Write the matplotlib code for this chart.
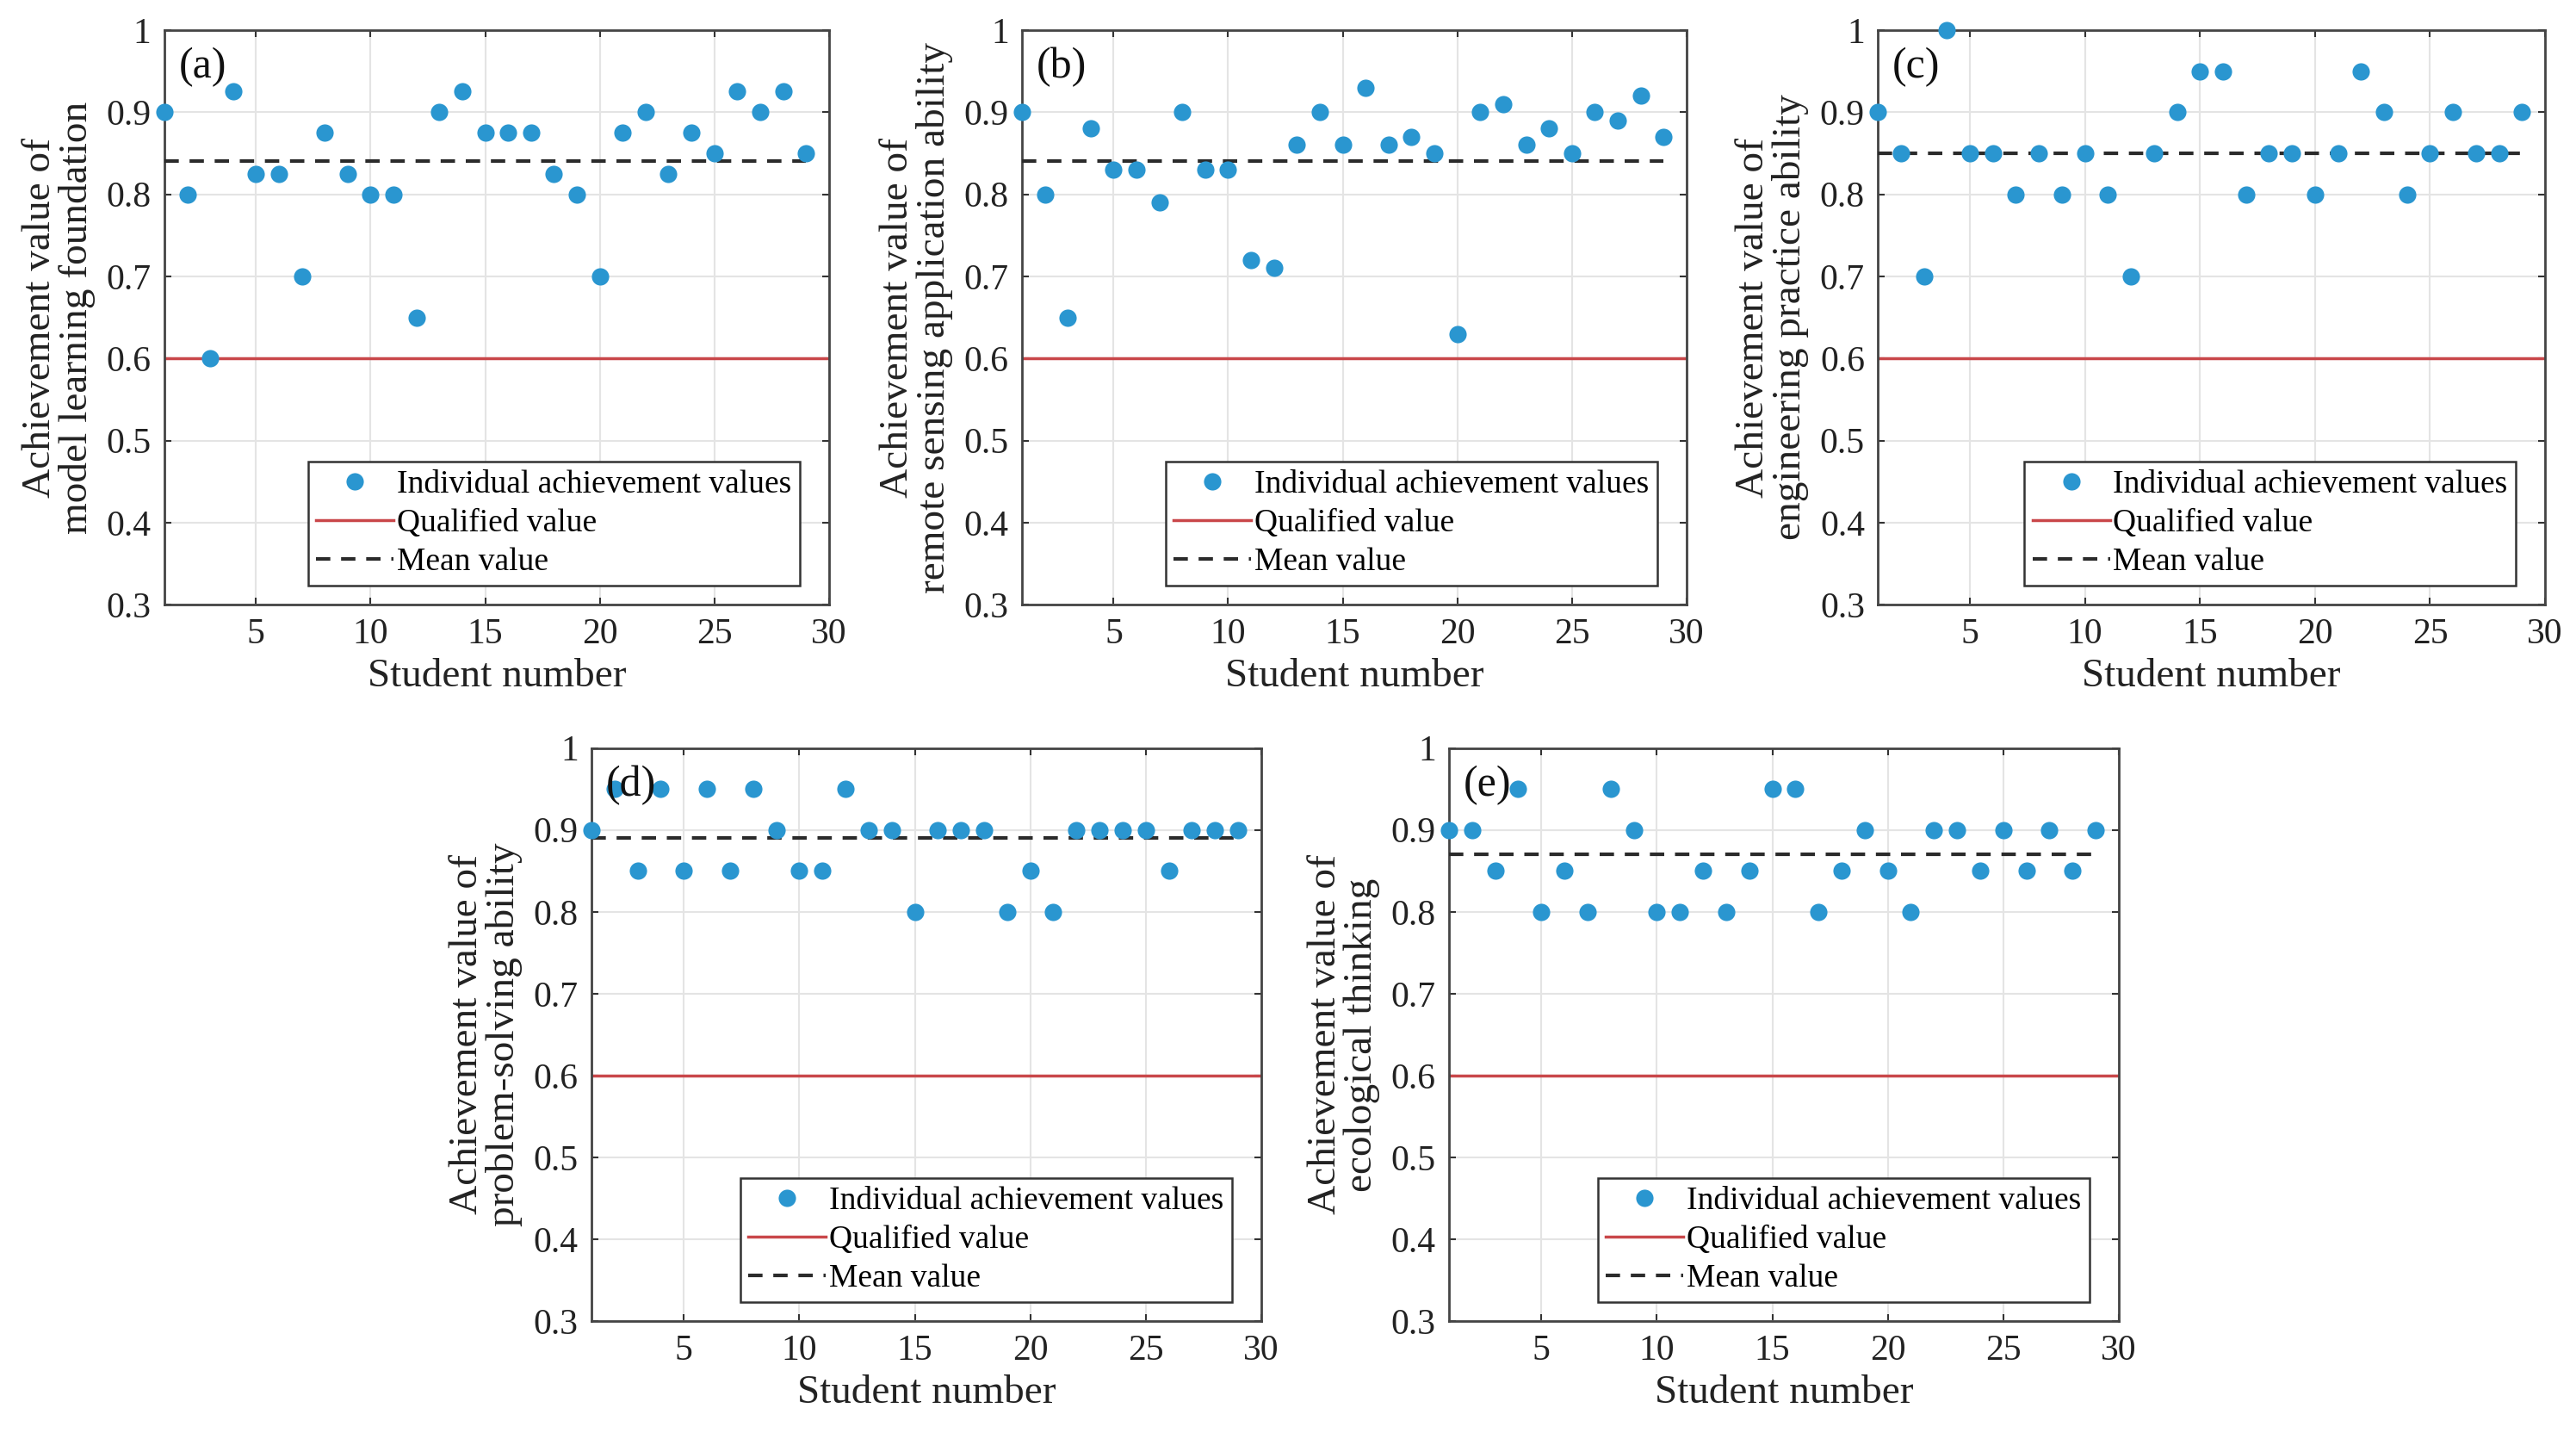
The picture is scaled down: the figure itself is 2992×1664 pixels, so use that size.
import matplotlib
matplotlib.use("Agg")
import matplotlib.pyplot as plt
from matplotlib.lines import Line2D

plt.rcParams['font.family'] = ['Liberation Serif', 'DejaVu Serif']

students = list(range(1, 30))

vals_a = [0.9, 0.8, 0.6, 0.925, 0.825, 0.825, 0.7, 0.875, 0.825, 0.8, 0.8, 0.65, 0.9, 0.925,
          0.875, 0.875, 0.875, 0.825, 0.8, 0.7, 0.875, 0.9, 0.825, 0.875, 0.85, 0.925, 0.9, 0.925, 0.85]
vals_b = [0.9, 0.8, 0.65, 0.88, 0.83, 0.83, 0.79, 0.9, 0.83, 0.83, 0.72, 0.71, 0.86, 0.9,
          0.86, 0.93, 0.86, 0.87, 0.85, 0.63, 0.9, 0.91, 0.86, 0.88, 0.85, 0.9, 0.89, 0.92, 0.87]
vals_c = [0.9, 0.85, 0.7, 1.0, 0.85, 0.85, 0.8, 0.85, 0.8, 0.85, 0.8, 0.7, 0.85, 0.9,
          0.95, 0.95, 0.8, 0.85, 0.85, 0.8, 0.85, 0.95, 0.9, 0.8, 0.85, 0.9, 0.85, 0.85, 0.9]
vals_d = [0.9, 0.95, 0.85, 0.95, 0.85, 0.95, 0.85, 0.95, 0.9, 0.85, 0.85, 0.95, 0.9, 0.9,
          0.8, 0.9, 0.9, 0.9, 0.8, 0.85, 0.8, 0.9, 0.9, 0.9, 0.9, 0.85, 0.9, 0.9, 0.9]
vals_e = [0.9, 0.9, 0.85, 0.95, 0.8, 0.85, 0.8, 0.95, 0.9, 0.8, 0.8, 0.85, 0.8, 0.85,
          0.95, 0.95, 0.8, 0.85, 0.9, 0.85, 0.8, 0.9, 0.9, 0.85, 0.9, 0.85, 0.9, 0.85, 0.9]

mean_values = [0.84, 0.84, 0.85, 0.89, 0.87]
qualified_value = 0.6

panel_tags = ['(a)', '(b)', '(c)', '(d)', '(e)']
ylabels = ['Achievement value of\nmodel learning foundation',
           'Achievement value of\nremote sensing application ability',
           'Achievement value of\nengineering practice ability',
           'Achievement value of\nproblem-solving ability',
           'Achievement value of\necological thinking']
xlabel = 'Student number'
legend_labels = ['Individual achievement values', 'Qualified value', 'Mean value']
xticks = [5, 10, 15, 20, 25, 30]
yticks = [0.3, 0.4, 0.5, 0.6, 0.7, 0.8, 0.9, 1.0]

all_vals = [vals_a, vals_b, vals_c, vals_d, vals_e]

W, H = 2992, 1664
fig = plt.figure(figsize=(W / 100, H / 100), dpi=100)

# axes rectangles (left, bottom, width, height) in figure fractions
rects = [
    (0.0638, 0.578, 0.258, 0.401),
    (0.3967, 0.578, 0.258, 0.401),
    (0.7290, 0.578, 0.259, 0.401),
    (0.2296, 0.078, 0.260, 0.400),
    (0.5625, 0.078, 0.260, 0.400),
]

dot_color = '#2A96D0'
red_color = '#C9474A'
mean_color = '#2B2B2B'

for i in range(5):
    ax = fig.add_axes(rects[i])
    vals = all_vals[i]
    ax.grid(True, color='#E4E4E4', linewidth=1.5, zorder=0)
    ax.set_axisbelow(True)
    ax.axhline(qualified_value, color=red_color, linewidth=2.5, zorder=2)
    ax.plot([students[0], students[-1]], [mean_values[i]] * 2, color=mean_color,
            linestyle=(0, (4, 3)), linewidth=3, zorder=3)
    ax.plot(students, vals, linestyle='none', marker='o', markersize=14.5,
            color=dot_color, markeredgewidth=0, zorder=4, clip_on=False)
    ax.set_xlim(1, 30)
    ax.set_ylim(0.3, 1.0)
    ax.set_xticks(xticks)
    ax.set_yticks(yticks)
    ax.set_yticklabels([f"{v:g}" for v in yticks])
    ax.tick_params(direction='in', length=6, width=1.5, labelsize=30, top=True,
                   right=True, colors='#333333', labelcolor='#222222', pad=11)
    for sp in ax.spines.values():
        sp.set_color('#444444')
        sp.set_linewidth(2)
    ax.set_xlabel(xlabel, fontsize=34, color='#222222', labelpad=6)
    ax.set_ylabel(ylabels[i], fontsize=34, color='#222222', labelpad=9,
                  linespacing=1.0)
    ax.text(0.022, 0.97, panel_tags[i], transform=ax.transAxes, fontsize=36,
            va='top', ha='left', color='#111111', zorder=5)
    handles = [
        Line2D([], [], linestyle='none', marker='o', markersize=14.5, color=dot_color,
               markeredgewidth=0),
        Line2D([], [], color=red_color, linewidth=2.5),
        Line2D([], [], color=mean_color, linestyle=(0, (4, 3)), linewidth=3),
    ]
    leg = ax.legend(handles, legend_labels, loc='lower right', fontsize=27,
                    frameon=True, fancybox=False, edgecolor='#333333',
                    borderpad=0.25, labelspacing=0.28, handlelength=2.4,
                    handletextpad=0.1, borderaxespad=0.6, framealpha=1,
                    bbox_to_anchor=(0.985, 0.0))
    leg.get_frame().set_linewidth(1.8)

fig.savefig('out.png', dpi=100, facecolor='white')
